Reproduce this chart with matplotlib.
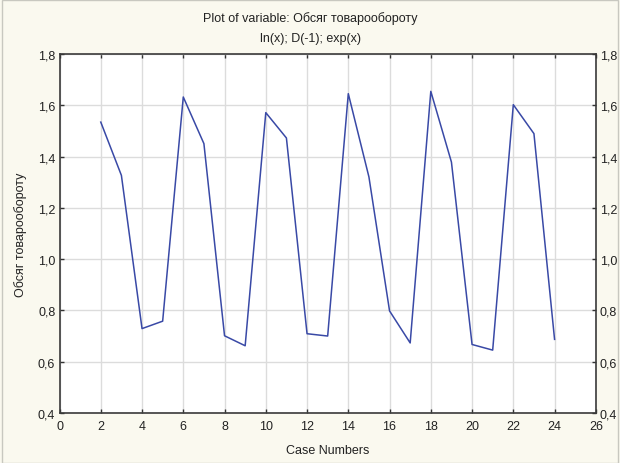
import numpy as np
import matplotlib
matplotlib.use("Agg")
import matplotlib.pyplot as plt
from matplotlib.ticker import FuncFormatter
from matplotlib.patches import Rectangle

plt.rcParams['font.family'] = ['Liberation Sans', 'DejaVu Sans']

# case numbers and values of the series
cases = np.arange(2, 25)
values = [1.535, 1.327, 0.729, 0.758, 1.633, 1.451, 0.701, 0.662, 1.572, 1.473,
          0.709, 0.700, 1.646, 1.321, 0.798, 0.673, 1.655, 1.379, 0.667, 0.645,
          1.603, 1.490, 0.687]

title1 = "Plot of variable: Обсяг товарообороту"
title2 = "ln(x); D(-1); exp(x)"
ylab = "Обсяг товарообороту"
xlab = "Case Numbers"

bg = "#faf9ef"
fig = plt.figure(figsize=(6.2, 4.64), dpi=100, facecolor=bg)
ax = fig.add_axes([0.096, 0.108, 0.865, 0.773])
ax.set_facecolor("white")

ax.plot(cases, values, color="#3949a6", lw=1.1)

ax.set_xlim(0, 26)
ax.set_ylim(0.4, 1.8)
ax.set_xticks(np.arange(0, 27, 2))
ax.set_yticks(np.arange(0.4, 1.81, 0.2))
ax.yaxis.set_major_formatter(FuncFormatter(lambda v, p: ("%.1f" % v).replace(".", ",")))
ax.grid(True, color="#dcdcdc", lw=1.0)
ax.set_axisbelow(True)

ax.tick_params(direction="in", length=3, width=1, color="#333333",
               top=True, right=True, labelright=True, labelsize=9, pad=3,
               labelcolor="#222222")
ax.tick_params(axis="x", pad=5)
for s in ax.spines.values():
    s.set_color("#3a3a3a")
    s.set_linewidth(1.2)

ax.set_xlabel(xlab, fontsize=9, labelpad=9, color="#222222")
ax.set_ylabel(ylab, fontsize=9, labelpad=8, color="#222222")

fig.text(0.5, 0.960, title1, ha="center", va="center", fontsize=9, color="#222222")
fig.text(0.5, 0.916, title2, ha="center", va="center", fontsize=9, color="#222222")

# thin frame around the figure
fig.patches.append(Rectangle((0.004, 0.0), 0.992, 0.998, transform=fig.transFigure,
                             fill=False, edgecolor="#c8c8c0", lw=1.0))

fig.savefig("out.png", dpi=100, facecolor=bg)
